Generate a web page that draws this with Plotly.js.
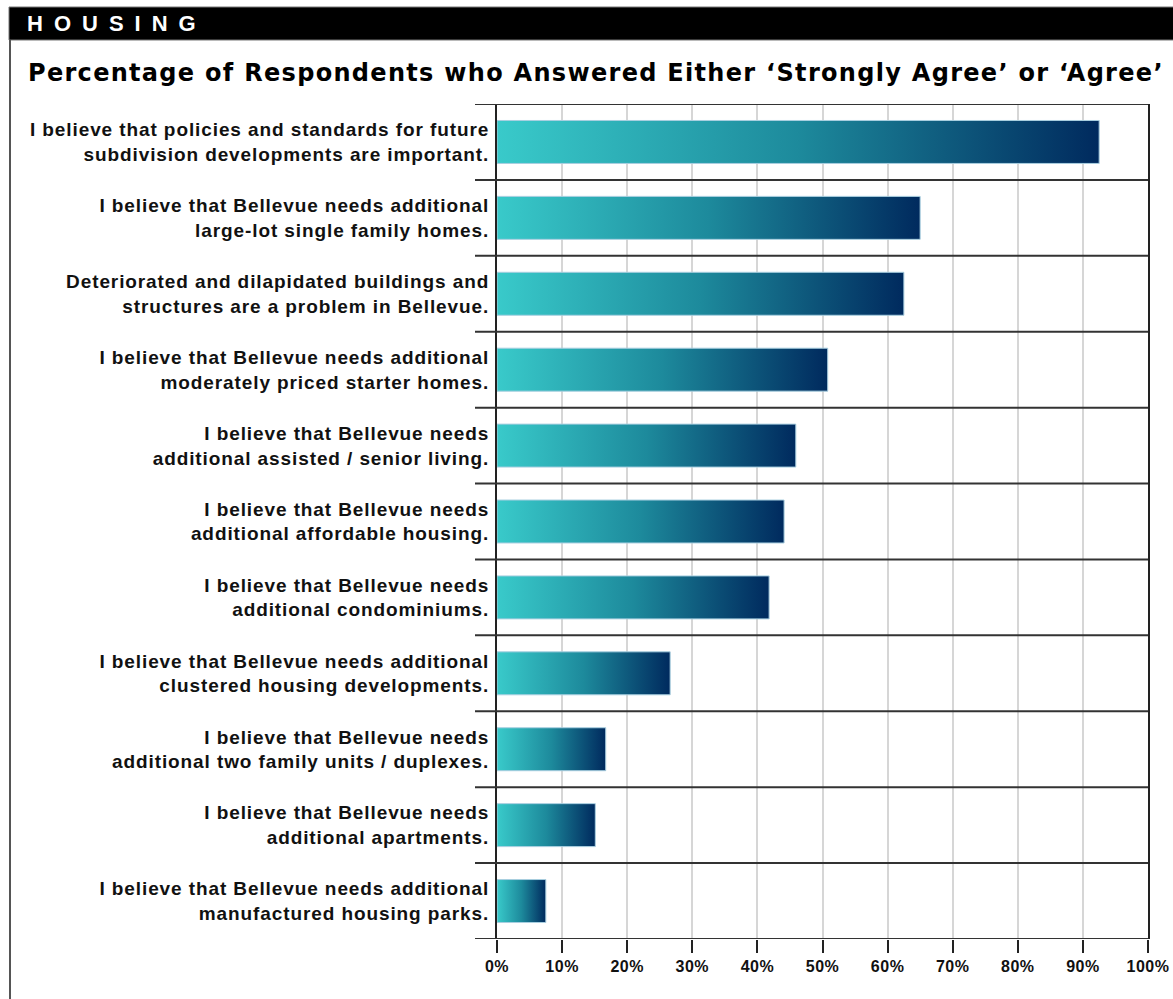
<!DOCTYPE html>
<html>
<head>
<meta charset="utf-8">
<script src="https://cdn.plot.ly/plotly-3.0.1.min.js"></script>
<style>
  html, body { margin: 0; padding: 0; background: #fff; }
  #chart { width: 1173px; height: 999px; }
  .annotation-text[data-unformatted="HOUSING"] { letter-spacing: 11px; }
  .annotation-text[data-unformatted^="Percentage"] { letter-spacing: 1.3px; }
  .ytick text { letter-spacing: 0.9px; }
  .xtick text { letter-spacing: 0.5px; }
</style>
</head>
<body>
<div id="chart"></div>
<script>
// ---- data ----
const sectionName = "HOUSING";
const chartTitle = "Percentage of Respondents who Answered Either \u2018Strongly Agree\u2019 or \u2018Agree\u2019";
const statements = [
  "I believe that policies and standards for future<br>subdivision developments are important.",
  "I believe that Bellevue needs additional<br>large-lot single family homes.",
  "Deteriorated and dilapidated buildings and<br>structures are a problem in Bellevue.",
  "I believe that Bellevue needs additional<br>moderately priced starter homes.",
  "I believe that Bellevue needs<br>additional assisted / senior living.",
  "I believe that Bellevue needs<br>additional affordable housing.",
  "I believe that Bellevue needs<br>additional condominiums.",
  "I believe that Bellevue needs additional<br>clustered housing developments.",
  "I believe that Bellevue needs<br>additional two family units / duplexes.",
  "I believe that Bellevue needs<br>additional apartments.",
  "I believe that Bellevue needs additional<br>manufactured housing parks."
];
const agreePct = [92.5, 65.0, 62.5, 50.8, 45.9, 44.1, 41.8, 26.6, 16.7, 15.1, 7.5];
const xTickVals = [0, 10, 20, 30, 40, 50, 60, 70, 80, 90, 100];
const xTickText = ["0%", "10%", "20%", "30%", "40%", "50%", "60%", "70%", "80%", "90%", "100%"];

// ---- styling ----
const W = 1173, H = 999;
const M = { l: 497, r: 25, t: 104, b: 60 };
const plotW = W - M.l - M.r, plotH = H - M.t - M.b;
const px2x = p => (p - M.l) / plotW;
const py2y = p => (H - M.b - p) / plotH;
const halfBar = 0.283;
const gradient = [[0, '#39caca'], [0.5, '#1d8a9c'], [1, '#002a5e']];
const labelFont = { family: 'Liberation Sans, Arial, sans-serif', size: 19, color: '#111', weight: 'bold' };

const idx = statements.map((_, i) => i);

const traces = agreePct.map((v, i) => ({
  type: 'scatter',
  mode: 'lines',
  x: [0, v, v, 0, 0],
  y: [i - halfBar, i - halfBar, i + halfBar, i + halfBar, i - halfBar],
  fill: 'toself',
  fillgradient: { type: 'horizontal', colorscale: gradient },
  line: { color: '#a9cfe0', width: 1 },
  hoverinfo: 'skip',
  showlegend: false
}));

const shapes = [];
// black header band
shapes.push({ type: 'rect', xref: 'paper', yref: 'paper',
  x0: px2x(9), x1: px2x(1180), y0: py2y(40), y1: py2y(7),
  fillcolor: '#000', line: { color: '#777', width: 1 } });
// left frame line
shapes.push({ type: 'line', xref: 'paper', yref: 'paper',
  x0: px2x(10), x1: px2x(10), y0: py2y(40), y1: py2y(1005),
  line: { color: '#555', width: 2 } });
// row separators (including top and bottom frame)
for (let k = -1; k < statements.length; k++) {
  shapes.push({ type: 'line', xref: 'paper', yref: 'y',
    x0: px2x(475), x1: 1, y0: k + 0.5, y1: k + 0.5,
    line: { color: '#333', width: 2 } });
}

const layout = {
  width: W, height: H,
  margin: M,
  paper_bgcolor: '#fff', plot_bgcolor: '#fff',
  showlegend: false,
  xaxis: {
    range: [0, 100], tickvals: xTickVals, ticktext: xTickText,
    tickfont: { family: 'Liberation Sans, Arial, sans-serif', size: 16, color: '#111', weight: 'bold' },
    ticks: 'outside', ticklen: 13, tickwidth: 2, tickcolor: '#222',
    showgrid: true, gridcolor: '#d6d6d6', gridwidth: 2,
    showline: false, zeroline: false, fixedrange: true
  },
  yaxis: {
    range: [statements.length - 0.5, -0.5],
    tickvals: idx, ticktext: statements,
    tickfont: labelFont,
    ticks: '', ticklabelstandoff: 2,
    showgrid: false, zeroline: false,
    showline: true, mirror: true, linecolor: '#222', linewidth: 2,
    fixedrange: true
  },
  shapes: shapes,
  annotations: [
    { text: sectionName, xref: 'paper', yref: 'paper', x: px2x(25), y: py2y(24),
      xanchor: 'left', yanchor: 'middle', showarrow: false,
      font: { family: 'Liberation Sans, Arial, sans-serif', size: 22, color: '#fff', weight: 'bold' } },
    { text: chartTitle, xref: 'paper', yref: 'paper', x: px2x(26), y: py2y(73),
      xanchor: 'left', yanchor: 'middle', showarrow: false,
      font: { family: 'DejaVu Sans, sans-serif', size: 24, color: '#000', weight: 'bold' } }
  ]
};

Plotly.newPlot('chart', traces, layout, { displayModeBar: false, staticPlot: true });
</script>
</body>
</html>
